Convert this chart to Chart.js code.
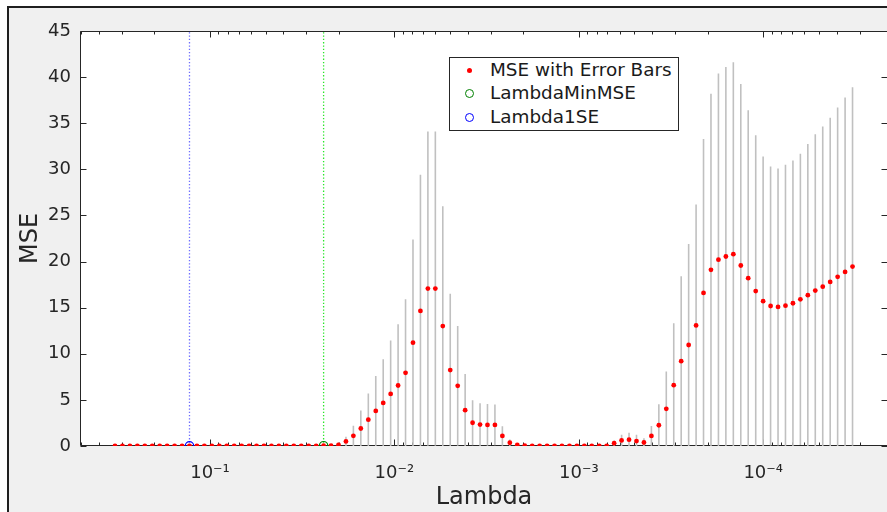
<!DOCTYPE html>
<html>
<head>
<meta charset="utf-8">
<script src="https://cdn.jsdelivr.net/npm/chart.js@4.4.0/dist/chart.umd.min.js"></script>
<style>
html,body{margin:0;padding:0;width:887px;height:512px;overflow:hidden;background:#ffffff;}
#frame{position:absolute;left:7px;top:6px;width:900px;height:520px;background:#f0f0f0;border-left:2px solid #1f1f1f;border-top:2px solid #1f1f1f;}
#c{position:absolute;left:0;top:0;z-index:1;}
#legend{position:absolute;left:449px;top:57px;width:228px;height:72px;border:1px solid #262626;background:#ffffff;z-index:2;font-family:'DejaVu Sans',sans-serif;font-size:18.4px;color:#1a1a1a;}
#legend .row{position:absolute;left:40px;height:22px;line-height:22px;white-space:nowrap;}
#legend .mk{position:absolute;box-sizing:border-box;border-radius:50%;}
</style>
</head>
<body>
<div id="frame"></div>
<canvas id="c" width="895" height="512"></canvas>
<div id="legend">
  <span class="mk" style="left:17px;top:10px;width:5px;height:5px;background:#ff0000;"></span>
  <div class="row" style="top:1px;">MSE with Error Bars</div>
  <span class="mk" style="left:15px;top:31px;width:9px;height:9px;border:1px solid #008000;"></span>
  <div class="row" style="top:24px;">LambdaMinMSE</div>
  <span class="mk" style="left:15px;top:55px;width:9px;height:9px;border:1px solid #0000ff;"></span>
  <div class="row" style="top:48px;">Lambda1SE</div>
</div>
<script>
// ---------------- data ----------------
const lambda = [
  0.3275, 0.2984, 0.2719, 0.2477, 0.2257, 0.2057, 0.1874, 0.1708, 0.1556, 0.1418,
  0.1292, 0.1177, 0.1073, 0.09772, 0.08904, 0.08113, 0.07393, 0.06736, 0.06138, 0.05592,
  0.05096, 0.04643, 0.04231, 0.03855, 0.03512, 0.03200, 0.02916, 0.02657, 0.02421, 0.02206,
  0.02010, 0.01831, 0.01669, 0.01521, 0.01385, 0.01262, 0.01150, 0.01048, 0.009550, 0.008702,
  0.007929, 0.007225, 0.006583, 0.005998, 0.005465, 0.004980, 0.004537, 0.004134, 0.003767, 0.003432,
  0.003128, 0.002850, 0.002597, 0.002366, 0.002156, 0.001964, 0.001790, 0.001631, 0.001486, 0.001354,
  0.001234, 0.001124, 0.001024, 0.0009333, 0.0008504, 0.0007748, 0.0007060, 0.0006433, 0.0005861, 0.0005341,
  0.0004866, 0.0004434, 0.0004040, 0.0003681, 0.0003354, 0.0003056, 0.0002785, 0.0002537, 0.0002312, 0.0002107,
  0.0001920, 0.0001749, 0.0001594, 0.0001452, 0.0001323, 0.0001206, 0.0001098, 0.0001001, 0.00009120, 0.00008310,
  0.00007572, 0.00006899, 0.00006286, 0.00005728, 0.00005219, 0.00004755, 0.00004333, 0.00003948, 0.00003597, 0.00003278
];
const mse = [
  0.02, 0.02, 0.02, 0.02, 0.02, 0.02, 0.02, 0.02, 0.02, 0.02,
  0.02, 0.02, 0.02, 0.02, 0.02, 0.02, 0.02, 0.02, 0.02, 0.02,
  0.02, 0.02, 0.02, 0.02, 0.02, 0.02, 0.02, 0.02, 0.03, 0.05,
  0.13, 0.5, 1.1, 1.9, 2.85, 3.8, 4.67, 5.65, 6.56, 7.94,
  11.2, 14.65, 17.07, 17.07, 13.0, 8.23, 6.52, 3.88, 2.52, 2.32,
  2.29, 2.29, 1.09, 0.35, 0.11, 0.03, 0.02, 0.02, 0.02, 0.02,
  0.02, 0.02, 0.02, 0.02, 0.02, 0.02, 0.02, 0.3, 0.6, 0.69,
  0.53, 0.38, 1.09, 2.25, 4.03, 6.6, 9.2, 10.95, 13.07, 16.6,
  19.1, 20.2, 20.55, 20.8, 19.57, 18.2, 16.8, 15.7, 15.18, 15.08,
  15.22, 15.48, 15.9, 16.35, 16.85, 17.28, 17.79, 18.34, 18.88, 19.46
];
const mseUpper = [
  0.04, 0.04, 0.04, 0.04, 0.04, 0.04, 0.04, 0.04, 0.04, 0.04,
  0.04, 0.04, 0.04, 0.04, 0.04, 0.04, 0.04, 0.04, 0.04, 0.04,
  0.04, 0.04, 0.04, 0.04, 0.04, 0.04, 0.04, 0.04, 0.06, 0.1,
  0.4, 1.0, 2.2, 3.85, 5.7, 7.6, 9.4, 11.45, 13.2, 15.9,
  22.4, 29.4, 34.1, 34.1, 26.0, 16.5, 13.0, 7.8, 4.97, 4.64,
  4.55, 4.5, 2.14, 0.7, 0.22, 0.06, 0.04, 0.04, 0.04, 0.04,
  0.04, 0.04, 0.04, 0.04, 0.04, 0.04, 0.04, 0.6, 1.23, 1.45,
  1.23, 0.85, 2.16, 4.53, 8.09, 13.3, 18.4, 21.9, 26.2, 33.3,
  38.2, 40.4, 41.1, 41.6, 39.24, 36.4, 33.7, 31.4, 30.3, 30.1,
  30.5, 30.95, 31.7, 32.76, 33.8, 34.64, 35.6, 36.7, 37.8, 38.9
];
const lambdaMinMSE = 0.02421;
const lambda1SE = 0.1292;
const xTickValues = [1e-4, 1e-3, 1e-2, 1e-1];
const xTickLabels = ['10\u207B\u2074', '10\u207B\u00B3', '10\u207B\u00B2', '10\u207B\u00B9'];
const yMin = 0, yMax = 45, yStep = 5;

// ---------------- build datasets ----------------
const errData = [];
lambda.forEach((l, i) => {
  const se = mseUpper[i] - mse[i];
  errData.push({x: l, y: mse[i] - se}, {x: l, y: mseUpper[i]}, {x: l, y: null});
});
const msePoints = lambda.map((l, i) => ({x: l, y: mse[i]}));
const iMin = lambda.indexOf(lambdaMinMSE);
const i1SE = lambda.indexOf(lambda1SE);

const FONT = "'DejaVu Sans', sans-serif";
const TXT = '#262626';
Chart.defaults.font.family = FONT;

const axesPlugin = {
  id: 'matlabAxes',
  beforeDraw(chart) {
    const {ctx, chartArea: a} = chart;
    ctx.save();
    ctx.fillStyle = '#ffffff';
    ctx.fillRect(a.left, a.top, a.right - a.left, a.bottom - a.top);
    ctx.restore();
  },
  beforeDatasetsDraw(chart) {
    const {ctx, chartArea: a, scales: {x, y}} = chart;
    const L = Math.round(a.left) + 0.5, R = Math.round(a.right) - 0.5;
    const T = Math.round(a.top) + 0.5, B = Math.round(a.bottom) - 0.5;
    ctx.save();
    ctx.strokeStyle = TXT;
    ctx.lineWidth = 1;
    ctx.beginPath();
    ctx.moveTo(L, T); ctx.lineTo(L, B); ctx.lineTo(R, B); ctx.lineTo(R, T); ctx.closePath();
    y.ticks.forEach(t => {
      const py = Math.round(y.getPixelForValue(t.value)) + 0.5;
      ctx.moveTo(L, py); ctx.lineTo(L + 6, py);
      ctx.moveTo(R, py); ctx.lineTo(R - 6, py);
    });
    xTickValues.forEach(v => {
      const px = Math.round(x.getPixelForValue(v)) + 0.5;
      ctx.moveTo(px, B); ctx.lineTo(px, B - 6);
      ctx.moveTo(px, T); ctx.lineTo(px, T + 6);
    });
    for (let n = -6; n <= 0; n++) {
      for (let k = 2; k <= 9; k++) {
        const v = k * Math.pow(10, n);
        if (v < x.min || v > x.max) continue;
        const px = Math.round(x.getPixelForValue(v)) + 0.5;
        ctx.moveTo(px, B); ctx.lineTo(px, B - 3);
        ctx.moveTo(px, T); ctx.lineTo(px, T + 3);
      }
    }
    ctx.stroke();
    ctx.restore();
  }
};

new Chart(document.getElementById('c'), {
  type: 'scatter',
  data: {
    datasets: [
      {
        type: 'line',
        label: 'Error bars',
        data: errData,
        spanGaps: false,
        fill: false,
        borderColor: '#c0c0c0',
        borderWidth: 1.6,
        pointRadius: 0,
        order: 5
      },
      {
        type: 'line',
        label: 'LambdaMinMSE line',
        data: [{x: lambdaMinMSE, y: yMin}, {x: lambdaMinMSE, y: yMax}],
        fill: false,
        borderColor: 'rgb(40,230,40)',
        borderWidth: 1.3,
        borderDash: [1.3, 2],
        pointRadius: 0,
        order: 4
      },
      {
        type: 'line',
        label: 'Lambda1SE line',
        data: [{x: lambda1SE, y: yMin}, {x: lambda1SE, y: yMax}],
        fill: false,
        borderColor: 'rgb(110,110,255)',
        borderWidth: 1.3,
        borderDash: [1.3, 2],
        pointRadius: 0,
        order: 3
      },
      {
        label: 'MSE with Error Bars',
        data: msePoints,
        pointRadius: 2.4,
        pointBackgroundColor: '#ff0000',
        pointBorderWidth: 0,
        order: 2
      },
      {
        label: 'LambdaMinMSE',
        data: [{x: lambdaMinMSE, y: mse[iMin]}],
        pointRadius: 4.2,
        pointBackgroundColor: 'rgba(0,0,0,0)',
        pointBorderColor: '#008000',
        pointBorderWidth: 1.2,
        order: 1
      },
      {
        label: 'Lambda1SE',
        data: [{x: lambda1SE, y: mse[i1SE]}],
        pointRadius: 4.2,
        pointBackgroundColor: 'rgba(0,0,0,0)',
        pointBorderColor: '#0000ff',
        pointBorderWidth: 1.2,
        order: 0
      }
    ]
  },
  options: {
    responsive: false,
    animation: false,
    devicePixelRatio: 1,
    layout: {padding: {left: 0, top: 31, right: 7, bottom: 0}},
    plugins: {legend: {display: false}, tooltip: {enabled: false}},
    scales: {
      x: {
        type: 'logarithmic',
        reverse: true,
        min: 2.105e-5,
        max: 0.507,
        afterBuildTicks(s) { s.ticks = xTickValues.map(v => ({value: v})); },
        afterFit(s) { s.height = 66; },
        ticks: {
          autoSkip: false,
          maxRotation: 0,
          padding: 17,
          color: TXT,
          font: {family: FONT, size: 18},
          callback(v) {
            const idx = xTickValues.findIndex(t => Math.abs(Math.log10(t) - Math.log10(v)) < 1e-6);
            return idx >= 0 ? xTickLabels[idx] : '';
          }
        },
        grid: {display: false, drawTicks: false},
        border: {display: false},
        title: {display: true, text: 'Lambda', color: TXT, font: {family: FONT, size: 24}, padding: {top: 0, bottom: 0}}
      },
      y: {
        min: yMin,
        max: yMax,
        afterFit(s) { s.width = 80; },
        ticks: {stepSize: yStep, padding: 9, color: TXT, font: {family: FONT, size: 18}},
        grid: {display: false, drawTicks: false},
        border: {display: false},
        title: {display: true, text: 'MSE', color: TXT, font: {family: FONT, size: 24}, padding: {top: 16, bottom: 0}}
      }
    }
  },
  plugins: [axesPlugin]
});
</script>
</body>
</html>
